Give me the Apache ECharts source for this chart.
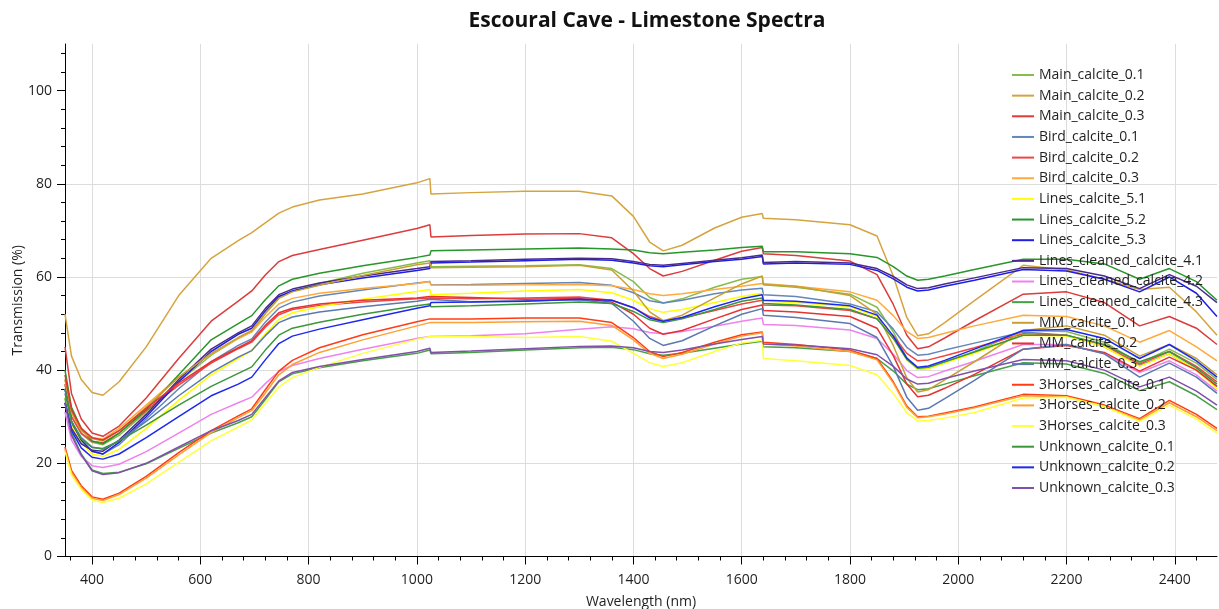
<!DOCTYPE html>
<html>
<head>
<meta charset="utf-8">
<script src="https://cdn.jsdelivr.net/npm/echarts@6/dist/echarts.min.js"></script>
<style>
  html, body { margin: 0; padding: 0; background: #ffffff; }
  #chart { width: 1219px; height: 609px; }
</style>
</head>
<body>
<div id="chart"></div>
<script>
// Wavelength sampling points (nm); 1024/1026 and 1638/1640 carry the detector steps
const wavelengths = [350, 362, 380, 400, 420, 450, 500, 560, 620, 670, 695, 720, 745, 770, 820, 900, 1000, 1024, 1026, 1100, 1200, 1300, 1360, 1400, 1430, 1455, 1490, 1550, 1600, 1638, 1640, 1700, 1800, 1850, 1880, 1905, 1925, 1945, 1975, 2030, 2120, 2200, 2270, 2335, 2390, 2440, 2478];

// Transmission (%) per sample
const mainCalcite01 = [37, 30, 26.3, 24.5, 24, 26, 31, 37.5, 43.2, 46.8, 48.3, 52.1, 55.5, 57.0, 58.6, 60.8, 63, 63.5, 62.2, 62.3, 62.4, 62.6, 61.8, 59, 55.6, 54.4, 55.3, 57.8, 59.5, 60.1, 58.3, 57.8, 56.3, 53.5, 48.2, 42.6, 40.2, 40.4, 41.6, 44.0, 48.5, 48.3, 46, 41.5, 44.5, 41.5, 38];
const mainCalcite02 = [52, 43, 38, 35.2, 34.6, 37.5, 45, 56, 64, 67.8, 69.5, 71.6, 73.7, 75.0, 76.5, 77.8, 80.2, 81.1, 77.8, 78.1, 78.4, 78.4, 77.4, 73, 67.5, 65.6, 66.8, 70.5, 72.8, 73.6, 72.6, 72.3, 71.2, 68.8, 60.2, 51.3, 47.4, 47.8, 50.2, 54.9, 62.5, 61.5, 59.5, 57.3, 57.8, 52.5, 47.5];
const mainCalcite03 = [45, 35, 29.5, 26.5, 25.8, 28, 34, 42.5, 50.5, 54.8, 57.0, 60.4, 63.3, 64.6, 65.9, 67.9, 70.4, 71.2, 68.6, 68.9, 69.2, 69.3, 68.4, 65, 61.8, 60.2, 61.2, 63.6, 65.5, 66.3, 65, 64.6, 63.4, 60.5, 54.1, 47.5, 44.6, 45.0, 46.9, 50.6, 56.3, 56.8, 54.5, 49.5, 51.5, 49, 45.5];
const birdCalcite01 = [35, 28.5, 24.8, 22.6, 22, 24, 29.5, 36, 41.8, 45.3, 46.7, 50.3, 53.3, 54.6, 55.9, 57.2, 58.7, 59, 58.3, 58.4, 58.6, 58.8, 58.2, 56.6, 54.9, 54.4, 55, 56.4, 57.2, 57.6, 56.2, 55.8, 54.2, 52.5, 48.8, 44.9, 43.2, 43.4, 44.3, 45.8, 48.2, 47.5, 45, 41, 43.5, 40, 36.5];
const birdCalcite02 = [37, 30, 26.5, 24.7, 24.4, 26.5, 31.3, 36.8, 41.5, 44.6, 46.0, 49.2, 51.9, 53.0, 53.9, 54.6, 55.3, 55.5, 55.4, 55.3, 55.5, 55.7, 55, 53.4, 51.5, 50.6, 51.2, 52.8, 54.2, 55, 54, 53.8, 52.8, 51, 47.4, 43.6, 42, 42.2, 43.1, 44.8, 47.8, 47.5, 45.3, 41.3, 44, 40.8, 37.5];
const birdCalcite03 = [38, 31, 27.2, 25.5, 25.2, 27.5, 32.5, 38.5, 43.5, 46.8, 48.2, 51.4, 54.2, 55.4, 56.5, 57.5, 58.6, 59, 58.3, 58.2, 58.3, 58.4, 58.1, 57.3, 56.4, 56, 56.4, 57.3, 58, 58.6, 58.4, 58, 56.8, 55, 51.7, 48.3, 46.8, 47.0, 47.9, 49.5, 51.8, 51.5, 49.5, 46, 48.5, 45, 42];
const linesCalcite51 = [34, 28, 24.5, 22, 21.5, 23, 27.5, 33.5, 39, 42.5, 44.2, 47.8, 50.9, 52.3, 53.6, 55.2, 56.9, 57.3, 56.2, 56.5, 57, 57.3, 56.6, 55, 53.2, 52.4, 53, 54.5, 55.8, 56.5, 54.8, 54.5, 53.6, 51.5, 47.0, 42.2, 40.2, 40.4, 41.5, 43.6, 47.5, 47.3, 45, 40.8, 43.5, 40, 36];
const linesCalcite52 = [40, 32, 27.5, 24.8, 24.2, 26.5, 31.5, 39, 46.5, 50, 51.7, 55.1, 58.1, 59.5, 60.8, 62.4, 64.2, 64.7, 65.6, 65.8, 66, 66.2, 66, 65.8, 65.2, 65, 65.3, 65.8, 66.3, 66.6, 65.4, 65.4, 65, 64.2, 62.2, 60.2, 59.3, 59.5, 60.2, 61.6, 63.8, 63.8, 62.8, 59.5, 61.8, 59, 55];
const linesCalcite53 = [36, 29, 25, 22.6, 22, 24.5, 30, 37.5, 44, 47.7, 49.0, 52.7, 55.8, 57.0, 58.3, 59.8, 61.4, 61.8, 63, 63.2, 63.5, 63.8, 63.6, 63, 62.4, 62.2, 62.6, 63.3, 63.8, 64.4, 62.8, 63, 62.7, 61.4, 59.6, 57.8, 57, 57.2, 58.0, 59.3, 61.6, 61.3, 59.5, 56.8, 60, 56.5, 51.5];
const linesCleaned41 = [33, 27.5, 24.2, 22.8, 22.6, 25, 30.5, 38, 44.5, 48, 49.5, 53.2, 56.2, 57.4, 58.7, 60.2, 61.8, 62.2, 63.3, 63.5, 63.8, 64, 63.9, 63.3, 62.7, 62.5, 62.9, 63.6, 64.1, 64.7, 63.1, 63.3, 63, 61.8, 60.1, 58.3, 57.5, 57.7, 58.5, 59.8, 62, 61.8, 60.2, 57.5, 60.5, 58, 54.5];
const linesCleaned42 = [31, 25, 21.5, 19.5, 19.1, 19.8, 22.5, 26.5, 30.5, 33, 34.2, 37.1, 39.7, 41.0, 42.5, 44.5, 46.8, 47.2, 47.2, 47.4, 47.8, 48.8, 49.3, 48.9, 48.1, 47.8, 48.3, 49.4, 50.5, 51.2, 49.8, 49.6, 48.6, 46.8, 43.4, 39.9, 38.4, 38.6, 39.8, 41.9, 45.5, 45.5, 43.5, 39.5, 42, 39, 35.5];
const linesCleaned43 = [34, 26.5, 22, 18.6, 17.8, 18.1, 19.9, 23.2, 26.5, 28.7, 30.0, 33.7, 37.5, 39.2, 40.5, 42, 43.6, 44.3, 43.5, 43.8, 44.3, 44.8, 44.9, 44.4, 43.5, 43.2, 43.6, 44.7, 45.6, 46.2, 45, 44.8, 44, 42.5, 39.8, 37.0, 35.8, 36.0, 37.0, 38.8, 41.6, 41.3, 39.3, 35.6, 37.5, 34.5, 31.5];
const mmCalcite01 = [38, 31, 27, 25.3, 24.8, 27, 32, 38.5, 43.6, 47, 48.5, 52.2, 55.4, 56.8, 58.2, 60.3, 62.6, 63, 62, 62.1, 62.2, 62.5, 61.5, 57, 52.5, 50.6, 51.8, 55.5, 58.5, 60.2, 58.4, 58, 56, 52, 45.3, 38.3, 35.3, 35.8, 37.9, 41.8, 48.5, 49.5, 47.5, 43, 45.5, 42.5, 39];
const mmCalcite02 = [39, 31.5, 27.5, 25.5, 25, 27, 31.8, 37.2, 41.8, 44.8, 46.3, 49.6, 52.3, 53.3, 54.2, 55, 55.5, 55.8, 55.8, 55.6, 55.2, 55.4, 54.6, 52, 49, 47.7, 48.5, 51, 53, 54, 52.8, 52.5, 51.5, 49, 43.1, 37.0, 34.3, 34.6, 36.1, 39.1, 44.5, 45.3, 43.8, 39.8, 42.8, 40, 36.5];
const mmCalcite03 = [36, 29, 25.5, 23.5, 23, 24.8, 29, 34.5, 39.5, 42.8, 44.2, 47.4, 50.2, 51.4, 52.5, 53.6, 54.8, 55.2, 54.8, 54.7, 54.9, 55.1, 54.3, 50.5, 46.8, 45.3, 46.3, 49.5, 52, 53.2, 51.8, 51.3, 50, 47, 40.8, 34.2, 31.4, 31.8, 33.9, 37.8, 44.5, 45.5, 43.5, 38.5, 41.5, 38.5, 35];
const horsesCalcite01 = [23.5, 18.5, 15.2, 12.8, 12.3, 13.6, 17.2, 22.3, 27, 30.2, 31.7, 35.8, 39.8, 42.1, 44.8, 47.6, 50.4, 51, 51, 51, 51.2, 51.2, 50.2, 47, 44, 42.9, 43.8, 46, 47.6, 48.2, 46, 45.5, 44.3, 42.5, 37.5, 32.3, 30, 30.1, 30.8, 32.1, 34.8, 34.5, 32.5, 29.6, 33.5, 30.5, 27.5];
const horsesCalcite02 = [23, 18, 14.8, 12.5, 12, 13.3, 16.8, 21.8, 26.6, 29.8, 31.3, 35.1, 39.0, 41.2, 43.8, 46.5, 49.5, 50.2, 50.2, 50.2, 50.4, 50.5, 49.6, 46.5, 43.6, 42.5, 43.4, 45.6, 47.3, 48, 45.6, 45.2, 44, 42.2, 37.2, 32.0, 29.8, 30.0, 30.6, 31.9, 34.5, 34.3, 32.2, 29.3, 33, 30, 27];
const horsesCalcite03 = [22.5, 17.5, 14.4, 12.1, 11.6, 12.5, 15.6, 20.2, 24.8, 27.8, 29.3, 32.9, 36.4, 38.4, 40.6, 43.6, 46.6, 47.2, 47.3, 47.2, 47, 47.2, 46.2, 43.6, 41.6, 40.8, 41.6, 44, 45.8, 46.4, 42.5, 42, 41, 39, 35.0, 30.9, 29.1, 29.2, 29.7, 30.9, 34, 34.2, 32.2, 29, 32.5, 29.5, 26.5];
const unknownCalcite01 = [36, 29, 25.2, 23.4, 23.2, 24.8, 28.2, 32.5, 36.5, 39.3, 40.7, 44.3, 47.5, 49.0, 50.3, 52, 53.8, 54.2, 53.6, 53.8, 54.2, 54.6, 54.3, 52.6, 50.8, 50.2, 51, 53, 54.8, 55.5, 54.3, 54, 53, 51, 46.8, 42.3, 40.4, 40.6, 41.8, 43.9, 47.5, 47.5, 45.5, 41.8, 44, 40.5, 37];
const unknownCalcite02 = [33, 27, 23.3, 21.3, 20.9, 22, 25.5, 30, 34.5, 37, 38.5, 42.2, 45.7, 47.3, 48.8, 50.8, 53.3, 53.8, 54.5, 54.6, 54.8, 55.2, 55, 53.4, 51.2, 50.5, 51.3, 53.6, 55.3, 56.2, 55, 54.8, 53.8, 51.8, 47.3, 42.6, 40.6, 40.9, 42.1, 44.5, 48.5, 48.7, 46.8, 42.5, 45.5, 42, 38.5];
const unknownCalcite03 = [33, 26, 21.8, 18.4, 17.6, 18, 20, 23.5, 27, 29.2, 30.5, 34.1, 37.7, 39.5, 40.8, 42.3, 44, 44.7, 43.8, 44.1, 44.6, 45.1, 45.2, 44.8, 44, 43.8, 44.3, 45.6, 46.6, 47.2, 45.6, 45.4, 44.6, 43.3, 40.8, 38.1, 37, 37.2, 38.2, 39.8, 42.3, 42, 40, 36.4, 38.5, 35.5, 32.5];

const seriesNames = [
  'Main_calcite_0.1', 'Main_calcite_0.2', 'Main_calcite_0.3',
  'Bird_calcite_0.1', 'Bird_calcite_0.2', 'Bird_calcite_0.3',
  'Lines_calcite_5.1', 'Lines_calcite_5.2', 'Lines_calcite_5.3',
  'Lines_cleaned_calcite_4.1', 'Lines_cleaned_calcite_4.2', 'Lines_cleaned_calcite_4.3',
  'MM_calcite_0.1', 'MM_calcite_0.2', 'MM_calcite_0.3',
  '3Horses_calcite_0.1', '3Horses_calcite_0.2', '3Horses_calcite_0.3',
  'Unknown_calcite_0.1', 'Unknown_calcite_0.2', 'Unknown_calcite_0.3'
];
const seriesValues = [
  mainCalcite01, mainCalcite02, mainCalcite03,
  birdCalcite01, birdCalcite02, birdCalcite03,
  linesCalcite51, linesCalcite52, linesCalcite53,
  linesCleaned41, linesCleaned42, linesCleaned43,
  mmCalcite01, mmCalcite02, mmCalcite03,
  horsesCalcite01, horsesCalcite02, horsesCalcite03,
  unknownCalcite01, unknownCalcite02, unknownCalcite03
];
const seriesColors = [
  '#86BC4E', '#D6A43F', '#DC3C3C',
  '#6487B9', '#F04545', '#FFAA3C',
  '#FFFF00', '#28962A', '#1E1EE6',
  '#482C8C', '#EE82EE', '#46A046',
  '#C8A032', '#E63232', '#5B78B0',
  '#FF3C14', '#FFA032', '#FFFF3C',
  '#3C963C', '#1E28F0', '#8050AA'
];

// Axis ticks
const xMajorTicks = [400, 600, 800, 1000, 1200, 1400, 1600, 1800, 2000, 2200, 2400];
const yMajorTicks = [0, 20, 40, 60, 80, 100];
const xMinorTicks = [];
for (let t = 360; t <= 2460; t += 40) { if (t % 200 !== 0) xMinorTicks.push(t); }
const yMinorTicks = [];
for (let t = 4; t <= 108; t += 4) { if (t % 20 !== 0) yMinorTicks.push(t); }

const FONT = '"Open Sans", "Noto Sans", sans-serif';
const TEXT = '#1f1f1f';

const chart = echarts.init(document.getElementById('chart'), null, { renderer: 'canvas' });

chart.setOption({
  animation: false,
  backgroundColor: '#ffffff',
  graphic: [{
    type: 'text',
    x: 647,
    y: 21,
    style: {
      text: 'Escoural Cave - Limestone Spectra',
      textAlign: 'center',
      textVerticalAlign: 'middle',
      font: 'bold 21px ' + FONT,
      fill: '#111111'
    }
  }],
  grid: { left: 65, right: 2, top: 44, bottom: 52.5, containLabel: false, outerBoundsMode: 'none' },
  legend: {
    orient: 'vertical',
    left: 1012,
    top: 67,
    padding: 0,
    icon: 'rect',
    itemWidth: 22,
    itemHeight: 2,
    itemGap: 4.65,
    selectedMode: false,
    textStyle: { fontFamily: FONT, fontSize: 14, color: TEXT, lineHeight: 16 },
    data: seriesNames
  },
  xAxis: [{
    type: 'value',
    min: 350,
    max: 2478,
    position: 'bottom',
    name: 'Wavelength (nm)',
    nameLocation: 'middle',
    nameGap: 38.5,
    nameMoveOverlap: false,
    nameTextStyle: { fontFamily: FONT, fontSize: 14, color: TEXT },
    axisLine: { show: true, onZero: false, lineStyle: { color: '#000000', width: 1 } },
    axisTick: { show: true, length: 8, customValues: xMajorTicks, lineStyle: { color: '#000000' } },
    axisLabel: { customValues: xMajorTicks, formatter: v => String(v), fontFamily: FONT, fontSize: 14, color: TEXT, margin: 17 },
    splitLine: { show: true, lineStyle: { color: '#dcdcdc', width: 1 } }
  }, {
    type: 'value',
    min: 350,
    max: 2478,
    position: 'bottom',
    axisLine: { show: false },
    axisTick: { show: true, length: 4, customValues: xMinorTicks, lineStyle: { color: '#000000' } },
    axisLabel: { show: false },
    splitLine: { show: false }
  }],
  yAxis: [{
    type: 'value',
    min: 0,
    max: 110,
    position: 'left',
    name: 'Transmission (%)',
    nameLocation: 'middle',
    nameGap: 40,
    nameMoveOverlap: false,
    nameTextStyle: { fontFamily: FONT, fontSize: 14, color: TEXT },
    axisLine: { show: true, onZero: false, lineStyle: { color: '#000000', width: 1 } },
    axisTick: { show: true, length: 8, customValues: yMajorTicks, lineStyle: { color: '#000000' } },
    axisLabel: { customValues: yMajorTicks, fontFamily: FONT, fontSize: 14, color: TEXT, margin: 13 },
    splitLine: { show: true, showMaxLine: false, lineStyle: { color: '#dcdcdc', width: 1 } }
  }, {
    type: 'value',
    min: 0,
    max: 110,
    position: 'left',
    axisLine: { show: false },
    axisTick: { show: true, length: 4, customValues: yMinorTicks, lineStyle: { color: '#000000' } },
    axisLabel: { show: false },
    splitLine: { show: false }
  }],
  series: seriesNames.map((name, i) => ({
    name: name,
    type: 'line',
    xAxisIndex: 0,
    yAxisIndex: 0,
    data: wavelengths.map((w, k) => [w, seriesValues[i][k]]),
    showSymbol: false,
    symbol: 'none',
    silent: true,
    color: seriesColors[i],
    lineStyle: { width: 1.5, color: seriesColors[i] },
    emphasis: { disabled: true }
  }))
});
</script>
</body>
</html>
